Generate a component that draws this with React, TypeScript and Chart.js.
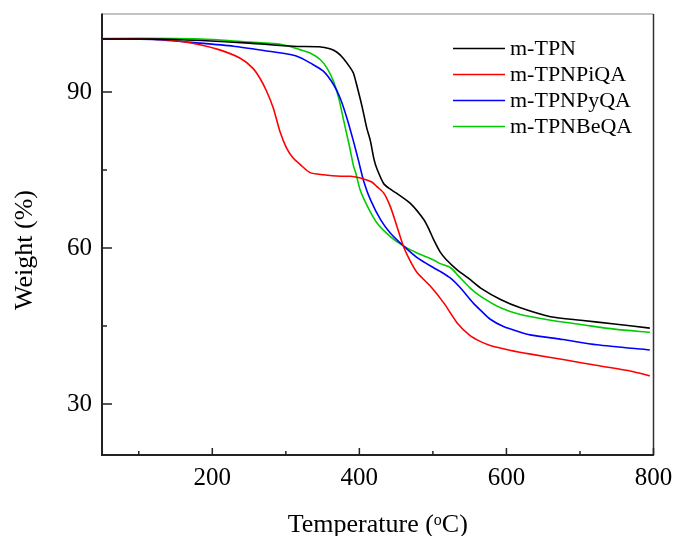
import React, { useEffect, useRef } from "react";
import { Chart, registerables } from "chart.js";

Chart.register(...registerables);

const seriesLabels = ["m-TPN", "m-TPNPiQA", "m-TPNPyQA", "m-TPNBeQA"];
const seriesColors = ["#000000", "#ff0000", "#0000ff", "#00cc00"];

const tempTPN = [50, 100, 150, 185, 250, 310, 345, 360, 370, 378, 388, 392, 397, 404, 410, 415, 420, 424, 433, 440, 451, 470, 488, 495, 501, 510, 518, 533, 550, 565, 592, 619, 660, 701, 747, 795];
const weightTPN = [100.2, 100.2, 100.1, 99.9, 99.4, 98.8, 98.7, 98.3, 97.6, 96.5, 94.6, 93.6, 91.0, 87.0, 83.1, 80.6, 77.0, 75.2, 72.4, 71.5, 70.5, 68.5, 65.4, 63.5, 61.6, 59.2, 57.8, 55.8, 54.0, 52.3, 50.1, 48.5, 46.8, 46.1, 45.4, 44.6];

const tempPiQA = [50, 100, 142, 183, 210, 238, 255, 265, 274, 283, 292, 301, 310, 320, 333, 351, 375, 388, 400, 410, 417, 424, 433, 442, 451, 460, 470, 479, 497, 515, 533, 551, 565, 579, 606, 633, 679, 724, 770, 795];
const weightPiQA = [100.2, 100.2, 100.0, 99.1, 98.1, 96.5, 94.6, 92.6, 90.1, 86.9, 82.4, 79.2, 77.3, 76.0, 74.5, 74.1, 73.8, 73.8, 73.5, 73.1, 72.7, 71.8, 70.6, 68.0, 64.2, 60.3, 57.3, 55.2, 52.6, 49.4, 45.6, 43.1, 42.0, 41.2, 40.3, 39.6, 38.5, 37.4, 36.3, 35.4];

const tempPyQA = [50, 120, 183, 229, 274, 306, 320, 333, 351, 365, 374, 383, 392, 399, 406, 415, 429, 442, 460, 479, 501, 510, 524, 537, 555, 565, 578, 596, 619, 632, 677, 723, 795];
const weightPyQA = [100.2, 100.1, 99.4, 98.8, 97.9, 97.2, 96.6, 95.6, 94.0, 91.4, 88.8, 85.0, 80.5, 76.7, 72.8, 69.3, 65.4, 62.9, 60.4, 58.1, 56.2, 55.5, 54.2, 52.4, 49.4, 48.0, 46.3, 44.9, 43.8, 43.3, 42.4, 41.4, 40.4];

const tempBeQA = [50, 150, 200, 251, 296, 320, 333, 347, 356, 365, 372, 379, 386, 392, 395, 401, 411, 424, 442, 460, 479, 501, 510, 524, 535, 550, 565, 592, 619, 660, 701, 747, 795];
const weightBeQA = [100.3, 100.3, 100.1, 99.6, 99.1, 98.1, 97.5, 96.2, 94.6, 92.0, 88.8, 84.3, 79.9, 75.8, 74.5, 71.2, 68.0, 64.8, 62.2, 60.4, 59.0, 57.7, 57.0, 56.2, 54.6, 52.4, 50.7, 48.5, 47.2, 46.1, 45.3, 44.4, 43.8];

const xMajorTicks = [200, 400, 600, 800];
const xMinorTicks = [100, 300, 500, 700];
const yMajorTicks = [30, 60, 90];
const yMinorTicks = [45, 75];

const xTitle = "Temperature (";
const xTitleSup = "o";
const xTitleEnd = "C)";
const yTitle = "Weight (%)";

const FONT = "'Liberation Serif', 'Times New Roman', serif";

const temps = [tempTPN, tempPiQA, tempPyQA, tempBeQA];
const weights = [weightTPN, weightPiQA, weightPyQA, weightBeQA];

const decorPlugin = {
  id: "decor",
  afterDraw(chart: any) {
    const { ctx, chartArea, scales } = chart;
    const { left, right, top, bottom } = chartArea;
    const xs = scales.x;
    const ys = scales.y;
    ctx.save();
    // frame
    ctx.lineCap = "butt";
    ctx.strokeStyle = "#888888";
    ctx.lineWidth = 1.2;
    ctx.beginPath();
    ctx.moveTo(left, top);
    ctx.lineTo(right, top);
    ctx.stroke();
    ctx.strokeStyle = "#333333";
    ctx.lineWidth = 1.5;
    ctx.beginPath();
    ctx.moveTo(right, top);
    ctx.lineTo(right, bottom);
    ctx.stroke();
    ctx.strokeStyle = "#222222";
    ctx.lineWidth = 2;
    ctx.beginPath();
    ctx.moveTo(left, top - 0.5);
    ctx.lineTo(left, bottom);
    ctx.lineTo(right + 0.5, bottom);
    ctx.stroke();
    // ticks (inward)
    ctx.lineWidth = 1.5;
    ctx.strokeStyle = "#222222";
    ctx.beginPath();
    xMajorTicks.forEach((v) => {
      const px = xs.getPixelForValue(v);
      ctx.moveTo(px, bottom);
      ctx.lineTo(px, bottom - 7);
    });
    xMinorTicks.forEach((v) => {
      const px = xs.getPixelForValue(v);
      ctx.moveTo(px, bottom);
      ctx.lineTo(px, bottom - 4);
    });
    yMajorTicks.forEach((v) => {
      const py = ys.getPixelForValue(v);
      ctx.moveTo(left, py);
      ctx.lineTo(left + 10, py);
    });
    yMinorTicks.forEach((v) => {
      const py = ys.getPixelForValue(v);
      ctx.moveTo(left, py);
      ctx.lineTo(left + 5, py);
    });
    ctx.stroke();

    // legend
    ctx.font = `22px ${FONT}`;
    ctx.textBaseline = "middle";
    ctx.textAlign = "left";
    chart.data.datasets.forEach((ds: any, i: number) => {
      const y = 48.5 + i * 26;
      ctx.strokeStyle = ds.borderColor;
      ctx.lineWidth = 1.6;
      ctx.beginPath();
      ctx.moveTo(453, y);
      ctx.lineTo(505, y);
      ctx.stroke();
      ctx.fillStyle = "#000000";
      ctx.fillText(ds.label, 510, y + 1);
    });

    // x title with superscript o
    ctx.fillStyle = "#000000";
    ctx.textBaseline = "alphabetic";
    ctx.font = `26px ${FONT}`;
    const w1 = ctx.measureText(xTitle).width;
    const w3 = ctx.measureText(xTitleEnd).width;
    ctx.font = `16px ${FONT}`;
    const w2 = ctx.measureText(xTitleSup).width;
    const total = w1 + w2 + w3;
    const cx = (left + right) / 2;
    let x0 = cx - total / 2;
    const base = 532;
    ctx.font = `26px ${FONT}`;
    ctx.fillText(xTitle, x0, base);
    x0 += w1;
    ctx.font = `16px ${FONT}`;
    ctx.fillText(xTitleSup, x0, base - 7);
    x0 += w2;
    ctx.font = `26px ${FONT}`;
    ctx.fillText(xTitleEnd, x0, base);

    // y title
    ctx.save();
    ctx.translate(32, 250);
    ctx.rotate(-Math.PI / 2);
    ctx.textAlign = "center";
    ctx.font = `26px ${FONT}`;
    ctx.fillText(yTitle, 0, 0);
    ctx.restore();

    ctx.restore();
  },
};

const zeroPad = (scale: any) => {
  scale.paddingTop = 0;
  scale.paddingBottom = 0;
  scale.paddingLeft = 0;
  scale.paddingRight = 0;
};

export default function App() {
  const canvasRef = useRef<HTMLCanvasElement | null>(null);

  useEffect(() => {
    if (!canvasRef.current) return;
    const datasets = seriesLabels.map((label, i) => ({
      label,
      data: temps[i].map((t, j) => ({ x: t, y: weights[i][j] })),
      borderColor: seriesColors[i],
      backgroundColor: seriesColors[i],
      borderWidth: 1.6,
      pointRadius: 0,
      tension: 0.25,
      fill: false,
    }));
    const chart = new Chart(canvasRef.current, {
      type: "line",
      data: { datasets },
      options: {
        animation: false,
        responsive: false,
        devicePixelRatio: 1,
        layout: { padding: { top: 14, right: 21.5, left: 0, bottom: 0 } },
        plugins: {
          legend: { display: false },
          tooltip: { enabled: false },
        },
        scales: {
          x: {
            type: "linear",
            min: 50,
            max: 800,
            grid: { display: false, drawTicks: false },
            border: { display: false },
            afterBuildTicks: (scale: any) => {
              scale.ticks = xMajorTicks.map((v) => ({ value: v }));
            },
            afterFit: (scale: any) => {
              scale.height = 81;
              zeroPad(scale);
            },
            ticks: {
              autoSkip: false,
              maxRotation: 0,
              padding: 8,
              color: "#000000",
              font: { family: FONT, size: 25 },
            },
          },
          y: {
            type: "linear",
            min: 20.2,
            max: 105,
            grid: { display: false, drawTicks: false },
            border: { display: false },
            afterBuildTicks: (scale: any) => {
              scale.ticks = yMajorTicks.map((v) => ({ value: v }));
            },
            afterFit: (scale: any) => {
              scale.width = 102;
              zeroPad(scale);
            },
            ticks: {
              autoSkip: false,
              padding: 10,
              color: "#000000",
              font: { family: FONT, size: 25 },
            },
          },
        },
      },
      plugins: [decorPlugin],
    } as any);
    return () => chart.destroy();
  }, []);

  return (
    <div style={{ position: "absolute", left: 0, top: 0, width: 675, height: 536, background: "#ffffff" }}>
      <canvas ref={canvasRef} width={675} height={536} style={{ display: "block" }} />
    </div>
  );
}
